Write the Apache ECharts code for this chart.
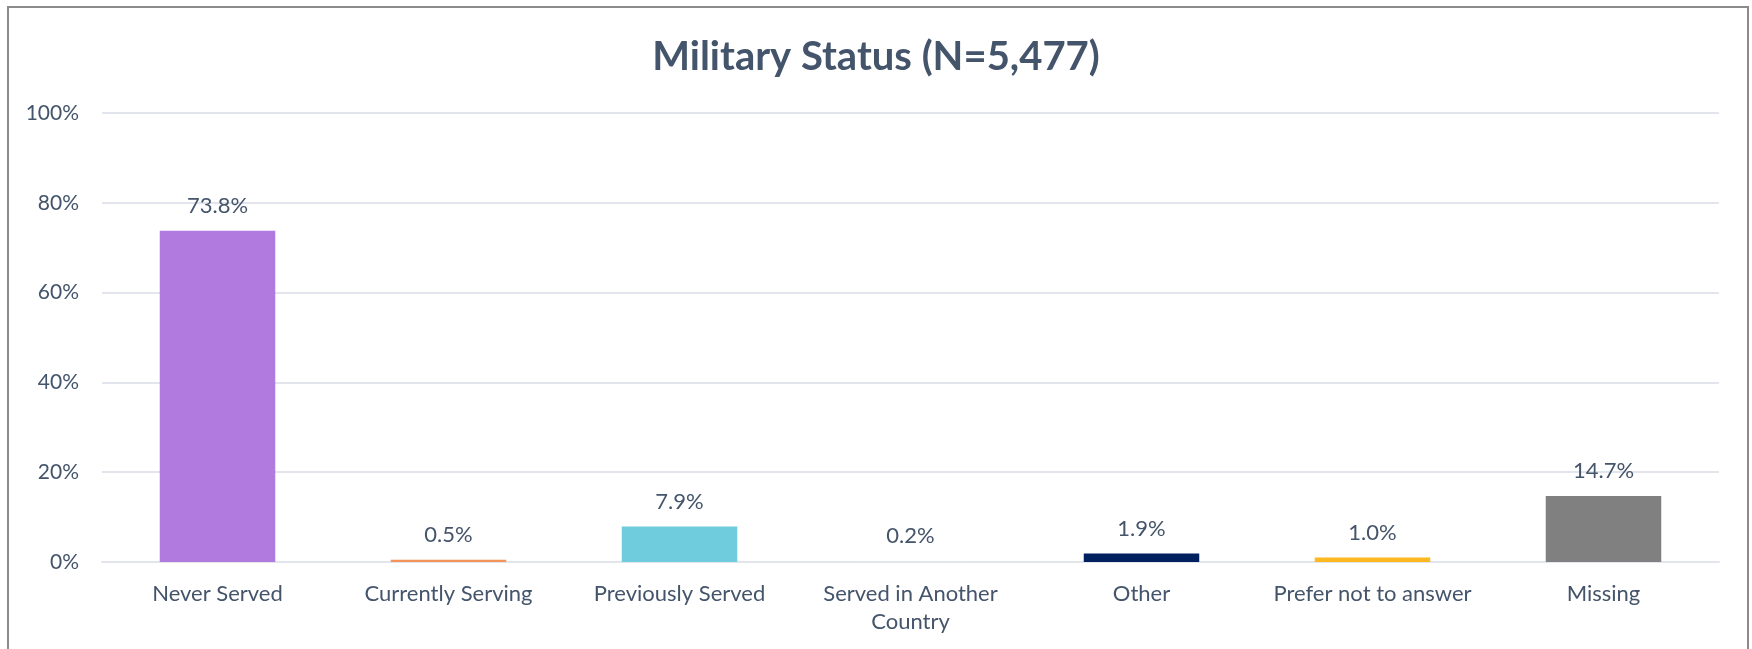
<!DOCTYPE html>
<html>
<head>
<meta charset="utf-8">
<title>Military Status</title>
<script src="https://cdn.jsdelivr.net/npm/echarts@6/dist/echarts.min.js"></script>
<style>
  html, body { margin: 0; padding: 0; background: #fff; }
  #chart { width: 1752px; height: 649px; }
</style>
</head>
<body>
<div id="chart"></div>
<script>
// categories and values
var categories = ['Never Served', 'Currently Serving', 'Previously Served', 'Served in Another\nCountry', 'Other', 'Prefer not to answer', 'Missing'];
var percents = [73.8, 0.5, 7.9, 0.2, 1.9, 1.0, 14.7];
var barColors = ['#B07ADE', '#F4935A', '#6ECCDC', '#E3E7ED', '#002060', '#FCB81E', '#808080'];
var yTicks = [0, 20, 40, 60, 80, 100];

var textColor = '#44546A';
var font = 'Lato';

var chart = echarts.init(document.getElementById('chart'));

var option = {
    animation: false,
    backgroundColor: '#fff',
    title: {
        text: 'Military Status (N=5,477)',
        left: 'center',
        top: 32,
        textStyle: {
            color: textColor,
            fontFamily: font,
            fontWeight: 'bold',
            fontSize: 40
        }
    },
    grid: {
        left: 102,
        right: 33,
        top: 113,
        bottom: 87
    },
    xAxis: {
        type: 'category',
        data: categories,
        axisTick: { show: false },
        axisLine: { lineStyle: { color: '#E2E6EC', width: 2 } },
        axisLabel: {
            color: textColor,
            fontFamily: font,
            fontSize: 22,
            lineHeight: 28,
            margin: 18,
            interval: 0
        }
    },
    yAxis: {
        type: 'value',
        min: yTicks[0],
        max: yTicks[yTicks.length - 1],
        interval: 20,
        axisLine: { show: false },
        axisTick: { show: false },
        splitLine: { lineStyle: { color: '#E2E6EC', width: 2 } },
        axisLabel: {
            color: textColor,
            fontFamily: font,
            fontSize: 21,
            margin: 23,
            formatter: '{value}%'
        }
    },
    series: [{
        type: 'bar',
        barWidth: '50%',
        data: percents.map(function (v, i) {
            return { value: v, itemStyle: { color: barColors[i] } };
        }),
        label: {
            show: true,
            position: 'top',
            distance: 14,
            color: textColor,
            fontFamily: font,
            fontSize: 22,
            formatter: function (p) { return p.value.toFixed(1) + '%'; }
        }
    }],
    graphic: [{
        type: 'rect',
        silent: true,
        shape: { x: 8, y: 7, width: 1740, height: 700 },
        style: { fill: 'none', stroke: '#8C8C8C', lineWidth: 2 }
    }]
};

chart.setOption(option);
</script>
</body>
</html>
